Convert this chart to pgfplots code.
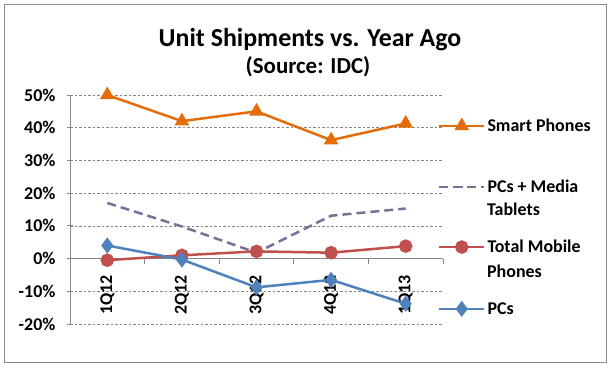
\documentclass[border=0pt]{standalone}
\usepackage{pgfplots}
\pgfplotsset{compat=1.18}
\usepackage{fontspec}
\setmainfont{Carlito}
\definecolor{cOr}{HTML}{E46C0A}
\definecolor{cPu}{HTML}{7E6D94}
\definecolor{cRe}{HTML}{C0504D}
\definecolor{cBl}{HTML}{4F81BD}
\definecolor{cAx}{HTML}{868686}
\definecolor{cBorder}{HTML}{8C8C8C}
\begin{document}
\begin{tikzpicture}
\path[fill=white] (0,0) rectangle (610bp,-369bp);
\draw[color=cBorder, line width=1bp] (4bp,-4bp) rectangle (606bp,-362bp);
\node[font=\bfseries\fontsize{26}{30}\selectfont, anchor=base, inner sep=0pt] at (310bp,-46bp) {Unit Shipments vs. Year Ago};
\node[font=\bfseries\fontsize{23}{27}\selectfont, anchor=base, inner sep=0pt] at (308bp,-73bp) {(Source: IDC)};
\pgfplotsset{
  base/.style={scale only axis, width=373bp, height=229bp, at={(70bp,-324bp)}, anchor=south west,
    xmin=-0.5, xmax=4.5, ymin=-20, ymax=50, clip=false},
  leg/.style={legend style={draw=none, fill=none, anchor=west, inner sep=0pt, outer sep=0pt,
      font=\bfseries\fontsize{18}{21}\selectfont, legend cell align=left,
      at={(axis description cs:0.9866,#1)}},
    legend image code/.code={\draw[mark repeat=2, mark phase=2] plot coordinates {(0bp,0bp) (22.5bp,0bp) (45bp,0bp)};}},
}
% frame axis
\begin{axis}[base,
  axis x line*=middle, axis y line*=left,
  axis line style={draw=cAx, line width=0.8bp},
  ytick={-20,-10,...,50},
  yticklabel={\pgfmathprintnumber{\tick}\%},
  /pgf/number format/assume math mode=true,
  ymajorgrids, grid style={draw=cAx, line width=0.6bp, dash pattern=on 2.5bp off 2bp},
  tick align=center, major tick length=6bp,
  tick style={draw=cAx, line width=0.8bp},
  xtick={0,1,2,3,4}, xticklabels={1Q12,2Q12,3Q12,4Q12,1Q13},
  major x tick style={draw=none},
  minor xtick={-0.5,0.5,1.5,2.5,3.5,4.5},
  minor tick length=5bp,
  minor x tick style={draw=cAx, line width=0.8bp, yshift=-2.5bp},
  ticklabel style={font=\bfseries\fontsize{18}{21}\selectfont},
  xticklabel shift=10bp,
  xticklabel style={rotate=90, anchor=east},
  yticklabel style={anchor=east, xshift=-8bp},
]
\end{axis}
\begin{axis}[base, hide axis, leg={0.865}]
\addplot[color=cOr, line width=2.5bp, mark=triangle*, mark size=6bp, mark options={solid}] coordinates {(0,50) (1,42) (2,45) (3,36.2) (4,41.3)};
\addlegendentry{Smart Phones}
\end{axis}
\begin{axis}[base, hide axis, leg={0.598}]
\addplot[color=cPu, line width=2.5bp, dash pattern=on 9bp off 5bp] coordinates {(0,17) (1,9.8) (2,1.8) (3,13.1) (4,15.3)};
\addlegendentry{PCs + Media}
\end{axis}
\begin{axis}[base, hide axis, leg={0.336}]
\addplot[color=cRe, line width=2.5bp, mark=*, mark size=5.5bp] coordinates {(0,-0.5) (1,1.0) (2,2.2) (3,1.8) (4,3.8)};
\addlegendentry{Total Mobile}
\end{axis}
\begin{axis}[base, hide axis, leg={0.066}]
\addplot[color=cBl, line width=2.5bp, mark=diamond*, mark size=6bp] coordinates {(0,4.0) (1,-0.3) (2,-8.8) (3,-6.5) (4,-13.8)};
\addlegendentry{PCs}
\end{axis}
\node[font=\bfseries\fontsize{18}{21}\selectfont, anchor=base west, inner sep=0pt] at (487bp,-215bp) {Tablets};
\node[font=\bfseries\fontsize{18}{21}\selectfont, anchor=base west, inner sep=0pt] at (487bp,-277bp) {Phones};
\end{tikzpicture}
\end{document}
